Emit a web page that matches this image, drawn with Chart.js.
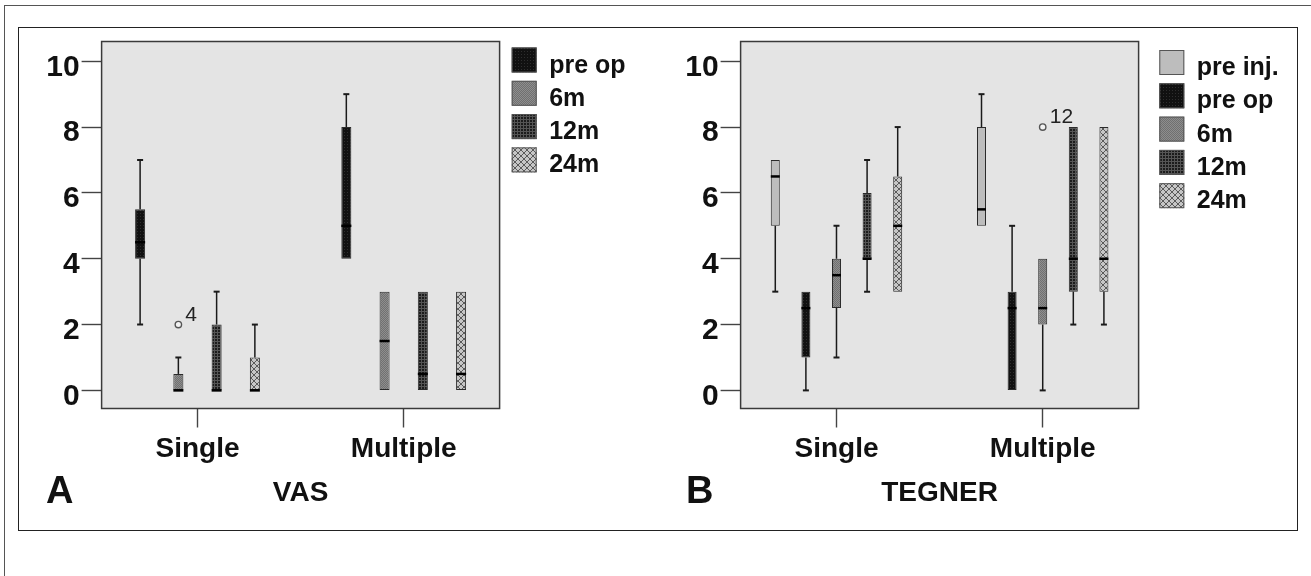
<!DOCTYPE html>
<html>
<head>
<meta charset="utf-8">
<script src="https://cdn.jsdelivr.net/npm/chart.js@4.4.1/dist/chart.umd.min.js"></script>
<style>
  html, body { margin:0; padding:0; background:#fff; }
  body { width:1311px; height:576px; position:relative; overflow:hidden; font-family:'Liberation Sans', Arial, sans-serif; }
  .outer { position:absolute; left:4px; top:5px; width:1400px; height:700px; border-left:1.5px solid #555; border-top:1.5px solid #555; }
  .frame { position:absolute; left:18px; top:27px; width:1278px; height:502px; border:1.5px solid #222; }
  .panel { position:absolute; top:21px; }
  .tag { position:absolute; top:471px; font-weight:bold; font-size:38px; line-height:38px; color:#111; }
</style>
</head>
<body>
<div class="outer"></div>
<div class="frame"></div>
<canvas id="vas" class="panel" style="left:20px" width="630" height="489"></canvas>
<canvas id="tegner" class="panel" style="left:659px" width="630" height="489"></canvas>
<div class="tag" style="left:46px">A</div>
<div class="tag" style="left:686px">B</div>
<script>
const groups = ['Single', 'Multiple'];
const yTicks = [0, 2, 4, 6, 8, 10];

// VAS - one row per time point, one value per group (Single, Multiple)
const vasSeries = ['pre op', '6m', '12m', '24m'];
const vasMin = [[2, 4], [0, 0], [0, 0], [0, 0]];
const vasQ1  = [[4, 4], [0, 0], [0, 0], [0, 0]];
const vasMed = [[4.5, 5], [0, 1.5], [0, 0.5], [0, 0.5]];
const vasQ3  = [[5.5, 8], [0.5, 3], [2, 3], [1, 3]];
const vasMax = [[7, 9], [1, 3], [3, 3], [2, 3]];
const vasOut = [[1, 0, 2, '4']]; // series, group, value, case

// TEGNER
const tegSeries = ['pre inj.', 'pre op', '6m', '12m', '24m'];
const tegMin = [[3, 5], [0, 0], [1, 0], [3, 2], [3, 2]];
const tegQ1  = [[5, 5], [1, 0], [2.5, 2], [4, 3], [3, 3]];
const tegMed = [[6.5, 5.5], [2.5, 2.5], [3.5, 2.5], [4, 4], [5, 4]];
const tegQ3  = [[7, 8], [3, 3], [4, 4], [6, 8], [6.5, 8]];
const tegMax = [[7, 9], [3, 5], [5, 4], [7, 8], [8, 8]];
const tegOut = [[2, 1, 8, '12']];

const FAMILY = "'Liberation Sans', Arial, sans-serif";

function makePattern(size, draw){
  const c = document.createElement('canvas');
  c.width = c.height = size;
  const g = c.getContext('2d');
  draw(g, size);
  return g.createPattern(c, 'repeat');
}

const fills = {
  'pre inj.': '#bdbdbd',
  'pre op': makePattern(3, g => { g.fillStyle = '#111'; g.fillRect(0,0,3,3); g.fillStyle = '#2e2e2e'; g.fillRect(0,0,1,1); }),
  '6m': makePattern(2, g => { g.fillStyle = '#8e8e8e'; g.fillRect(0,0,2,2); g.fillStyle = '#707070'; g.fillRect(0,0,1,1); g.fillRect(1,1,1,1); }),
  '12m': makePattern(3, g => { g.fillStyle = '#555'; g.fillRect(0,0,3,3); g.fillStyle = '#1c1c1c'; g.fillRect(0,0,2,2); }),
  '24m': makePattern(6, g => {
    g.fillStyle = '#c6c6c6'; g.fillRect(0,0,6,6);
    g.strokeStyle = '#5a5a5a'; g.lineWidth = 1;
    g.beginPath(); g.moveTo(0,0); g.lineTo(6,6); g.moveTo(6,0); g.lineTo(0,6); g.stroke();
  })
};

// plot background + frame
const plotFrame = {
  id: 'plotFrame',
  beforeDatasetsDraw(chart){
    const {ctx, chartArea:a} = chart;
    ctx.save();
    ctx.fillStyle = '#e4e4e4';
    ctx.fillRect(a.left, a.top, a.width, a.height);
    ctx.strokeStyle = '#3a3a3a'; ctx.lineWidth = 1.5;
    ctx.strokeRect(a.left, a.top, a.width, a.height);
    ctx.restore();
  }
};

// whiskers, medians, outliers on top of the floating bars
const boxParts = {
  id: 'boxParts',
  afterDatasetsDraw(chart){
    const {ctx, scales:{y}} = chart;
    ctx.save();
    chart.data.datasets.forEach((ds, i) => {
      const w = ds.whisker;
      chart.getDatasetMeta(i).data.forEach((bar, j) => {
        const x = bar.x, half = bar.width / 2;
        const q1 = ds.data[j].y[0], q3 = ds.data[j].y[1];
        ctx.strokeStyle = '#1a1a1a';
        ctx.lineWidth = 1.5;
        ctx.beginPath();
        if (w.max[j] > q3){ ctx.moveTo(x, y.getPixelForValue(q3)); ctx.lineTo(x, y.getPixelForValue(w.max[j])); }
        if (w.min[j] < q1){ ctx.moveTo(x, y.getPixelForValue(q1)); ctx.lineTo(x, y.getPixelForValue(w.min[j])); }
        ctx.stroke();
        ctx.lineWidth = 2;
        ctx.beginPath();
        if (w.max[j] > q3){ const p = y.getPixelForValue(w.max[j]); ctx.moveTo(x-3, p); ctx.lineTo(x+3, p); }
        if (w.min[j] < q1){ const p = y.getPixelForValue(w.min[j]); ctx.moveTo(x-3, p); ctx.lineTo(x+3, p); }
        ctx.stroke();
        // median
        const m = y.getPixelForValue(w.med[j]);
        ctx.strokeStyle = '#000'; ctx.lineWidth = 2.5;
        ctx.beginPath(); ctx.moveTo(x-half, m); ctx.lineTo(x+half, m); ctx.stroke();
      });
      ds.outliers.forEach(([j, v, label]) => {
        const bar = chart.getDatasetMeta(i).data[j];
        const py = y.getPixelForValue(v);
        ctx.beginPath(); ctx.arc(bar.x, py, 3.2, 0, Math.PI*2);
        ctx.fillStyle = '#f2f2f2'; ctx.fill();
        ctx.lineWidth = 1.4; ctx.strokeStyle = '#555'; ctx.stroke();
        ctx.fillStyle = '#222';
        ctx.font = '21px ' + FAMILY;
        ctx.textBaseline = 'alphabetic';
        ctx.fillText(label, bar.x + 7, py - 4);
      });
    });
    ctx.restore();
  }
};

// legend at the right of the plot, SPSS style
const sideLegend = {
  id: 'sideLegend',
  afterDraw(chart, args, opts){
    const {ctx, chartArea} = chart;
    const x = chartArea.right + opts.gap;
    let top = chartArea.top + opts.top;
    ctx.save();
    ctx.font = 'bold 25px ' + FAMILY;
    ctx.textBaseline = 'alphabetic';
    chart.data.datasets.forEach(ds => {
      ctx.fillStyle = ds.backgroundColor;
      ctx.fillRect(x, top, 25, 25);
      ctx.strokeStyle = '#555'; ctx.lineWidth = 1;
      ctx.strokeRect(x + 0.5, top + 0.5, 24, 24);
      ctx.fillStyle = '#111';
      ctx.fillText(ds.label, x + 37.5, top + 25);
      top += 33.3;
    });
    ctx.restore();
  }
};

function boxChart(id, series, mins, q1s, meds, q3s, maxs, outs, title, barPct, legendGap, legendTop){
  const datasets = series.map((name, i) => ({
    label: name,
    data: groups.map((g, j) => ({ x: j + 1, y: [q1s[i][j], q3s[i][j]] })),
    backgroundColor: fills[name],
    borderColor: '#2a2a2a', borderWidth: 1, borderSkipped: false,
    categoryPercentage: 0.742, barPercentage: barPct,
    whisker: { min: mins[i], med: meds[i], max: maxs[i] },
    outliers: outs.filter(o => o[0] === i).map(o => o.slice(1))
  }));

  return new Chart(document.getElementById(id).getContext('2d'), {
    type: 'bar',
    data: { datasets },
    options: {
      responsive: false, animation: false,
      layout: { padding: { left: 0, top: 20.5, right: 150.4, bottom: 0 } },
      plugins: {
        legend: { display: false }, tooltip: { enabled: false },
        sideLegend: { gap: legendGap, top: legendTop }
      },
      scales: {
        x: {
          type: 'linear', min: 0.535, max: 2.465, offset: false,
          afterBuildTicks: s => { s.ticks = groups.map((g, j) => ({ value: j + 1 })); },
          afterFit: s => { s.height = 101.5; },
          grid: { offset: false, drawOnChartArea: false, drawTicks: true, tickLength: 19, tickColor: '#444', tickWidth: 1.4 },
          border: { display: false },
          ticks: { callback: v => groups[v - 1], autoSkip: false, maxRotation: 0, padding: 5, color: '#111',
                   font: { family: FAMILY, size: 28, weight: 'bold' } },
          title: { display: true, text: title, color: '#111', padding: { top: 0, bottom: 0 },
                   font: { family: FAMILY, size: 28, weight: 'bold' } }
        },
        y: {
          min: -0.55, max: 10.6,
          afterBuildTicks: s => { s.ticks = yTicks.map(v => ({ value: v })); },
          afterFit: s => { s.width = 81.6; },
          grid: { drawOnChartArea: false, tickLength: 20, tickColor: '#444', tickWidth: 1.4 },
          border: { display: false },
          ticks: { padding: 2, labelOffset: 6, color: '#111', font: { family: FAMILY, size: 30, weight: 'bold' } }
        }
      }
    },
    plugins: [plotFrame, boxParts, sideLegend]
  });
}

boxChart('vas', vasSeries, vasMin, vasQ1, vasMed, vasQ3, vasMax, vasOut, 'VAS', 0.262, 12.1, 6);
boxChart('tegner', tegSeries, tegMin, tegQ1, tegMed, tegQ3, tegMax, tegOut, 'TEGNER', 0.294, 20.7, 8.5);
</script>
</body>
</html>
